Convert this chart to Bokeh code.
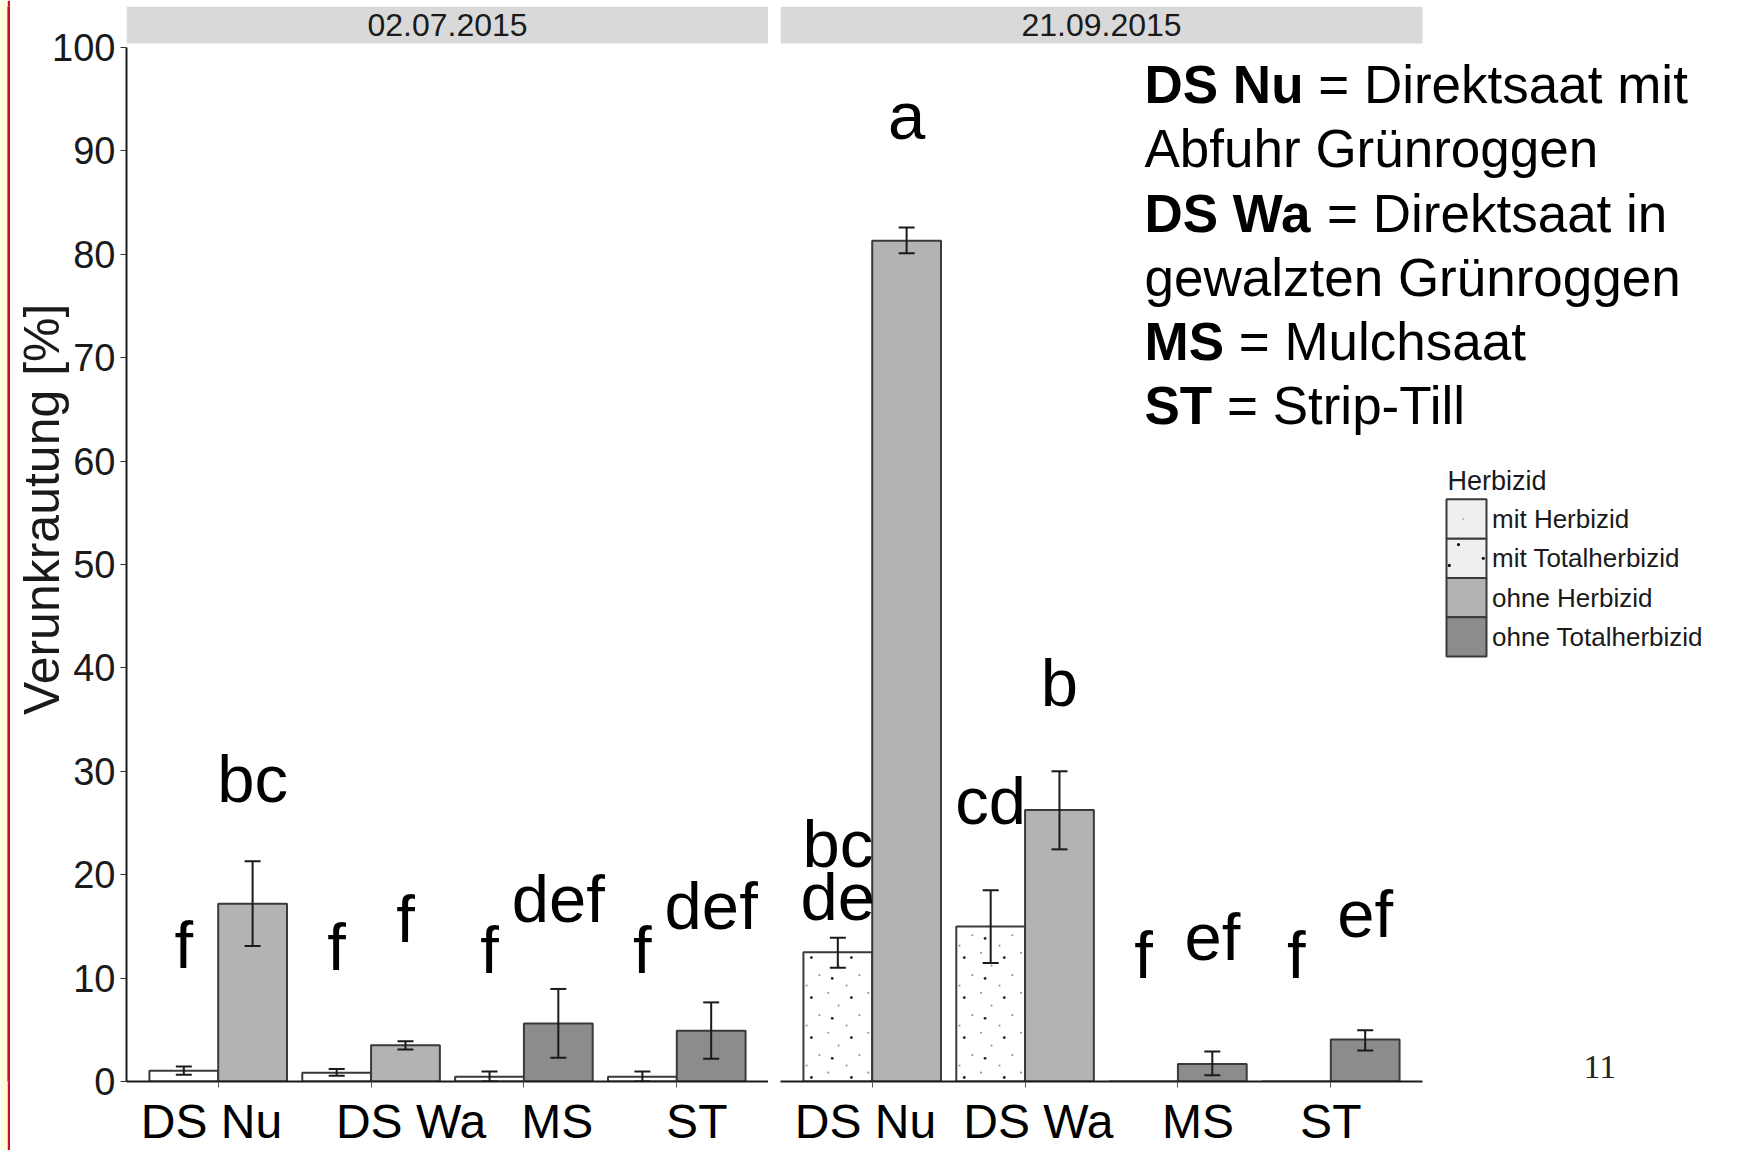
import math
from bokeh.plotting import figure
from bokeh.models import (ColumnDataSource, Range1d, FixedTicker, Whisker, TeeHead, Label)
from bokeh.layouts import row
from bokeh.core.properties import value
from bokeh.embed import file_html
from bokeh.resources import INLINE

# ---------------- data ----------------
categories = ["DS Nu", "DS Wa", "MS", "ST"]
panel_titles = ["02.07.2015", "21.09.2015"]
herbizid_types = ["mit Herbizid", "mit Totalherbizid", "ohne Herbizid", "ohne Totalherbizid"]
legend_title = "Herbizid"

# panel 02.07.2015
p1_mit_vals = [1.05, 0.85, 0.45, 0.45]
p1_mit_lo = [0.65, 0.55, 0.0, 0.0]
p1_mit_hi = [1.45, 1.2, 0.97, 0.97]
p1_mit_type = ["mit Herbizid", "mit Herbizid", "mit Herbizid", "mit Herbizid"]
p1_mit_letters = ["f", "f", "f", "f"]
p1_mit_letter_y = [10.95, 10.8, 10.5, 10.5]

p1_ohne_vals = [17.2, 3.5, 5.6, 4.9]
p1_ohne_lo = [13.1, 3.1, 2.3, 2.2]
p1_ohne_hi = [21.3, 3.9, 8.95, 7.65]
p1_ohne_type = ["ohne Herbizid", "ohne Herbizid", "ohne Totalherbizid", "ohne Totalherbizid"]
p1_ohne_letters = ["bc", "f", "def", "def"]
p1_ohne_letter_y = [27.05, 13.5, 15.45, 14.8]

# panel 21.09.2015
p2_mit_vals = [12.5, 15.0, 0.0, 0.0]
p2_mit_lo = [11.0, 11.45, None, None]
p2_mit_hi = [13.9, 18.5, None, None]
p2_mit_type = ["mit Totalherbizid", "mit Totalherbizid", "mit Herbizid", "mit Herbizid"]
p2_mit_letters = ["bc\nde", "cd", "f", "f"]
p2_mit_letter_y = [20.75, 24.95, 10.0, 10.0]

p2_ohne_vals = [81.3, 26.25, 1.7, 4.05]
p2_ohne_lo = [80.1, 22.45, 0.6, 3.0]
p2_ohne_hi = [82.6, 30.0, 2.9, 4.95]
p2_ohne_type = ["ohne Herbizid", "ohne Herbizid", "ohne Totalherbizid", "ohne Totalherbizid"]
p2_ohne_letters = ["a", "b", "ef", "ef"]
p2_ohne_letter_y = [91.15, 36.3, 11.75, 14.0]

y_ticks = [0, 10, 20, 30, 40, 50, 60, 70, 80, 90, 100]
y_title = "Verunkrautung [%]"

note_bold = ["DS Nu", "", "DS Wa", "", "MS", "ST"]
note_rest = ["= Direktsaat mit", "Abfuhr Grünroggen", "= Direktsaat in",
             "gewalzten Grünroggen", "= Mulchsaat", "= Strip-Till"]
page_number = "11"

# ---------------- layout / style ----------------
FONT = "Liberation Sans"
H = 1150
TOP = 6
BOTTOM = 68
FRAME_H = H - TOP - BOTTOM          # 1076
PANEL_W = 642
X0, X1 = 0.4, 4.6
PX_X = PANEL_W / (X1 - X0)           # px per category unit
PX_Y = 10.35                         # px per percent
Y_TOP = FRAME_H / PX_Y
STRIP_BOTTOM = 100.39
DODGE = 0.225
BAR_W = 0.45
LINE_STEP = 5.15
MID = 0.35                           # baseline -> middle shift in em

# horizontal nudge of the slide's category captions (in no-break spaces; + right, - left)
p1_label_nudge = [-1, 6, 5, 3]
p2_label_nudge = [-1, 2, 3, 0]

EDGE_YELLOW_W = 7
EDGE_RED_W = 3
P1_LEFT = 116
P2_LEFT = 12
P2_X = EDGE_YELLOW_W + EDGE_RED_W + P1_LEFT + PANEL_W + P2_LEFT   # page x of panel 2 frame
P2_FRAME_W = 1744 - P2_X
FRAME_BOTTOM_PAGE = TOP + FRAME_H

fills = {
    "mit Herbizid": "#ffffff",
    "mit Totalherbizid": "#ffffff",
    "ohne Herbizid": "#b3b3b3",
    "ohne Totalherbizid": "#8c8c8c",
}
key_fills = {
    "mit Herbizid": "#efefef",
    "mit Totalherbizid": "#efefef",
    "ohne Herbizid": "#b3b3b3",
    "ohne Totalherbizid": "#8c8c8c",
}
OUTLINE = "#3a3a3a"
NBSP = "\u00a0"

# dot texture for "mit Totalherbizid" (offsets as fractions of a 40 px tile)
TILE = 40.0
tex_dark = [(0.20, 0.10), (0.72, 0.58)]
tex_light = [(0.62, 0.22), (0.08, 0.40), (0.40, 0.66), (0.88, 0.90)]
# texture inside the legend keys (fractions of the key box)
key_tex_dark = [(0.30, 0.15), (0.07, 0.68), (0.92, 0.50)]
key_tex_light = [(0.42, 0.50)]

ARIAL_BOLD = {"D": 722, "S": 667, " ": 278, "N": 722, "u": 611, "W": 944,
              "a": 556, "M": 833, "T": 611}


def bold_width(s, size):
    return sum(ARIAL_BOLD.get(c, 556) for c in s) / 1000.0 * size


def nudged(label, n):
    return NBSP * n + label if n >= 0 else label + NBSP * (-n)


def p2x(px):
    return X0 + (px - P2_X) / PX_X


def p2y(py):
    return (FRAME_BOTTOM_PAGE - py) / PX_Y


def texture_points(left, top, offsets):
    xs, ys = [], []
    w_px = BAR_W * PX_X
    h_px = top * PX_Y
    ny = int(h_px // TILE) + 1
    nx = int(w_px // TILE) + 1
    for j in range(ny):
        for i in range(nx):
            for fx, fy in offsets:
                px = (i + fx) * TILE
                py = (j + fy) * TILE
                if 3 < px < w_px - 3 and 3 < py < h_px - 3:
                    xs.append(left + px / PX_X)
                    ys.append(py / PX_Y)
    return xs, ys


def edge_fig(width, color):
    p = figure(width=width, height=H, x_range=Range1d(0, 1), y_range=Range1d(0, 1),
               output_backend="svg", toolbar_location=None, min_border=0,
               x_axis_location=None, y_axis_location=None)
    p.xgrid.visible = False
    p.ygrid.visible = False
    p.outline_line_color = None
    p.background_fill_color = color
    p.border_fill_color = color
    p.quad(left=0, right=1, bottom=0, top=1, fill_color=color, line_color=None)
    return p


def make_fig(width, left, x_end, with_yaxis, nudge):
    p = figure(width=width, height=H, x_range=Range1d(X0, x_end), y_range=Range1d(0, Y_TOP),
               output_backend="svg", toolbar_location=None,
               min_border_left=left, min_border_right=0,
               min_border_top=TOP, min_border_bottom=BOTTOM,
               y_axis_location="left" if with_yaxis else None)
    p.xgrid.visible = False
    p.ygrid.visible = False
    p.outline_line_color = None
    p.background_fill_color = "white"
    p.border_fill_color = "white"
    xa = p.xaxis[0]
    xa.ticker = FixedTicker(ticks=[i + 1 for i in range(len(categories))])
    xa.major_label_overrides = {i + 1: nudged(c, nudge[i]) for i, c in enumerate(categories)}
    xa.bounds = (X0, X1)
    xa.axis_line_width = 2
    xa.axis_line_color = "#1a1a1a"
    xa.major_tick_out = 6
    xa.major_tick_in = 0
    xa.major_tick_line_color = "#555555"
    xa.minor_tick_out = 0
    xa.minor_tick_in = 0
    xa.major_label_text_font = FONT
    xa.major_label_text_font_size = "48px"
    xa.major_label_text_color = "black"
    xa.major_label_standoff = 7
    if with_yaxis:
        ya = p.yaxis[0]
        ya.ticker = FixedTicker(ticks=y_ticks)
        ya.bounds = (0, 100)
        ya.axis_line_width = 2
        ya.axis_line_color = "#1a1a1a"
        ya.major_tick_out = 6
        ya.major_tick_in = 0
        ya.major_tick_line_color = "#333333"
        ya.minor_tick_out = 0
        ya.minor_tick_in = 0
        ya.major_label_text_font = FONT
        ya.major_label_text_font_size = "38px"
        ya.major_label_text_color = "#1a1a1a"
        ya.major_label_standoff = 5
        # leading no-break spaces lift the centred title towards the top, as in the original
        ya.axis_label = NBSP * 5 + y_title
        ya.axis_label_text_font = FONT
        ya.axis_label_text_font_size = "50px"
        ya.axis_label_text_font_style = "normal"
        ya.axis_label_text_color = "#1a1a1a"
        ya.axis_label_standoff = -21
    return p


def draw_panel(p, title, mit, ohne):
    p.quad(left=X0, right=X1, bottom=STRIP_BOTTOM, top=Y_TOP,
           fill_color="#d9d9d9", line_color=None)
    p.text(x=[(X0 + X1) / 2], y=[(STRIP_BOTTOM + Y_TOP) / 2], text=[title],
           text_align="center", text_baseline="middle", text_font=value(FONT),
           text_font_size="32px", text_color="#1a1a1a")

    rows = []
    for i, _ in enumerate(categories):
        pos = i + 1
        for (vals, lo, hi, typ, lets, ly), off in ((mit, -DODGE), (ohne, DODGE)):
            rows.append(dict(x=pos + off, top=vals[i], lo=lo[i], hi=hi[i],
                             type=typ[i], letters=lets[i], ly=ly[i]))

    for t in herbizid_types:
        sel = [r for r in rows if r["type"] == t]
        if not sel:
            continue
        src = ColumnDataSource(dict(x=[r["x"] for r in sel], top=[r["top"] for r in sel]))
        p.vbar(x="x", top="top", bottom=0, width=BAR_W, source=src,
               fill_color=fills[t], line_color=OUTLINE, line_width=2)
        if t == "mit Totalherbizid":
            dx, dy, lx_, ly_ = [], [], [], []
            for r in sel:
                xs, ys = texture_points(r["x"] - BAR_W / 2, r["top"], tex_dark)
                dx += xs; dy += ys
                xs, ys = texture_points(r["x"] - BAR_W / 2, r["top"], tex_light)
                lx_ += xs; ly_ += ys
            p.scatter(x=lx_, y=ly_, size=2.2, marker="circle", fill_color="#9c9c9c",
                      line_color=None)
            p.scatter(x=dx, y=dy, size=2.8, marker="circle", fill_color="#222222",
                      line_color=None)

    err = [r for r in rows if r["lo"] is not None]
    esrc = ColumnDataSource(dict(x=[r["x"] for r in err], lower=[r["lo"] for r in err],
                                 upper=[r["hi"] for r in err]))
    p.add_layout(Whisker(source=esrc, base="x", lower="lower", upper="upper",
                         dimension="height", line_color="#1a1a1a", line_width=2,
                         level="overlay",
                         upper_head=TeeHead(size=16, line_color="#1a1a1a", line_width=2),
                         lower_head=TeeHead(size=16, line_color="#1a1a1a", line_width=2)))

    letter_px = 67
    shift = MID * letter_px / PX_Y
    lx, lyv, lt = [], [], []
    for r in rows:
        for k, line in enumerate(r["letters"].split("\n")):
            lx.append(r["x"])
            lyv.append(r["ly"] - k * LINE_STEP + shift)
            lt.append(line)
    p.text(x="x", y="y", text="text", source=ColumnDataSource(dict(x=lx, y=lyv, text=lt)),
           text_align="center", text_baseline="middle", text_font=value(FONT),
           text_font_size=f"{letter_px}px", text_color="black")


# slide edge: pale yellow margin with red rule
pe1 = edge_fig(EDGE_YELLOW_W, "#fffcd8")
pe2 = edge_fig(EDGE_RED_W, "#c8102e")

p1 = make_fig(P1_LEFT + PANEL_W, P1_LEFT, X1, True, p1_label_nudge)
p2 = make_fig(P2_LEFT + P2_FRAME_W, P2_LEFT, X0 + P2_FRAME_W / PX_X, False, p2_label_nudge)

draw_panel(p1, panel_titles[0],
           (p1_mit_vals, p1_mit_lo, p1_mit_hi, p1_mit_type, p1_mit_letters, p1_mit_letter_y),
           (p1_ohne_vals, p1_ohne_lo, p1_ohne_hi, p1_ohne_type, p1_ohne_letters, p1_ohne_letter_y))
draw_panel(p2, panel_titles[1],
           (p2_mit_vals, p2_mit_lo, p2_mit_hi, p2_mit_type, p2_mit_letters, p2_mit_letter_y),
           (p2_ohne_vals, p2_ohne_lo, p2_ohne_hi, p2_ohne_type, p2_ohne_letters, p2_ohne_letter_y))

# explanatory note (inside the second panel's frame, screen units from frame bottom-left)
NOTE_SIZE = 53
NOTE_X = 1144 - P2_X
for k, (b, rest) in enumerate(zip(note_bold, note_rest)):
    baseline = 103.5 + 64.3 * k
    y = FRAME_BOTTOM_PAGE - baseline + MID * NOTE_SIZE
    x = NOTE_X
    if b:
        p2.add_layout(Label(x=x, y=y, x_units="screen", y_units="screen", text=b,
                            text_font=FONT, text_font_size=f"{NOTE_SIZE}px",
                            text_font_style="bold", text_color="black",
                            text_baseline="middle", text_align="left"))
        x += bold_width(b + " ", NOTE_SIZE)
    p2.add_layout(Label(x=x, y=y, x_units="screen", y_units="screen", text=rest,
                        text_font=FONT, text_font_size=f"{NOTE_SIZE}px",
                        text_color="black", text_baseline="middle", text_align="left"))

# legend "Herbizid": stacked key boxes as in the original
KEY_L, KEY_R = 1446, 1486
KEY_TOP, KEY_H = 499.3, 39.35
n = len(herbizid_types)
key_src = ColumnDataSource(dict(
    left=[p2x(KEY_L)] * n, right=[p2x(KEY_R)] * n,
    top=[p2y(KEY_TOP + KEY_H * k) for k in range(n)],
    bottom=[p2y(KEY_TOP + KEY_H * (k + 1)) for k in range(n)],
    fill=[key_fills[t] for t in herbizid_types]))
p2.quad(left="left", right="right", top="top", bottom="bottom", fill_color="fill",
        line_color=OUTLINE, line_width=2, source=key_src)
kt = herbizid_types.index("mit Totalherbizid")
km = herbizid_types.index("mit Herbizid")
p2.scatter(x=[p2x(KEY_L + fx * (KEY_R - KEY_L)) for fx, fy in key_tex_dark],
           y=[p2y(KEY_TOP + KEY_H * (kt + fy)) for fx, fy in key_tex_dark],
           size=3.2, marker="circle", fill_color="#111111", line_color=None)
p2.scatter(x=[p2x(KEY_L + fx * (KEY_R - KEY_L)) for fx, fy in key_tex_light],
           y=[p2y(KEY_TOP + KEY_H * (km + fy)) for fx, fy in key_tex_light],
           size=2.2, marker="circle", fill_color="#b0b0b0", line_color=None)
p2.text(x=[p2x(KEY_R + 5.5)] * n, y=[p2y(KEY_TOP + KEY_H * (k + 0.5)) for k in range(n)],
        text=herbizid_types, text_align="left", text_baseline="middle",
        text_font=value(FONT), text_font_size="26px", text_color="#1a1a1a")
p2.text(x=[p2x(KEY_L + 1)], y=[p2y(490 - MID * 27)], text=[legend_title],
        text_align="left", text_baseline="middle",
        text_font=value(FONT), text_font_size="27px", text_color="#1a1a1a")

# slide page number
p2.add_layout(Label(x=1583 - P2_X, y=3 + MID * 34,
                    x_units="screen", y_units="screen", text=page_number,
                    text_font="Liberation Serif", text_font_size="34px", text_color="#222222",
                    text_baseline="middle", text_align="left"))

layout = row(pe1, pe2, p1, p2)
open("out.html", "w").write(file_html(layout, INLINE))
